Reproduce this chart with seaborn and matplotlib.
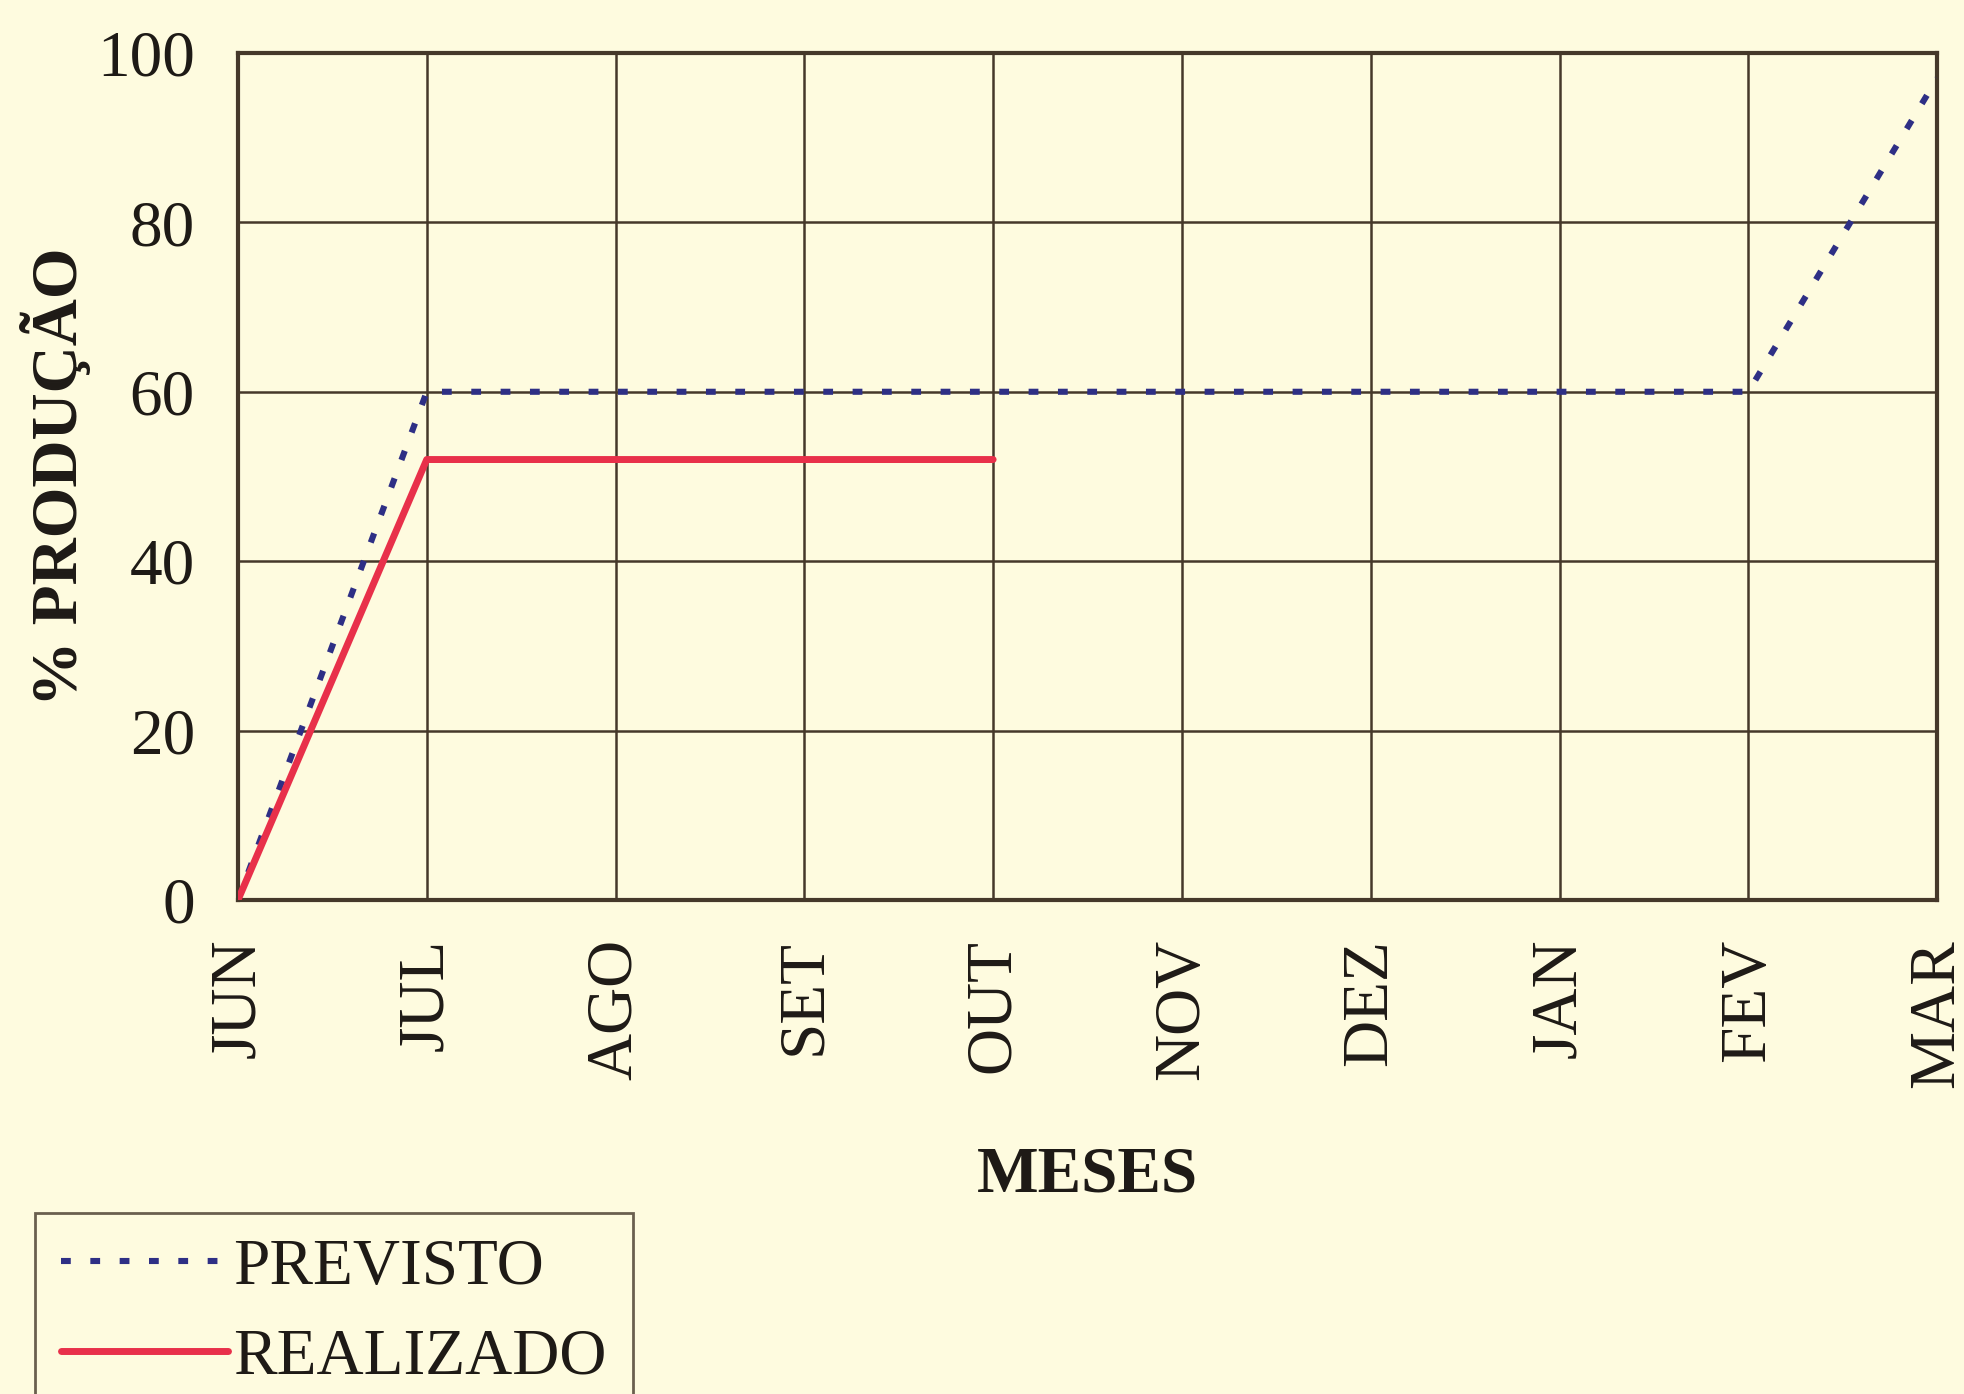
import matplotlib
matplotlib.use("Agg")
import matplotlib.pyplot as plt
import seaborn as sns
import pandas as pd

# ----------------------------
# Data
# ----------------------------
meses = ["JUN", "JUL", "AGO", "SET", "OUT", "NOV", "DEZ", "JAN", "FEV", "MAR"]
previsto = [0, 60, 60, 60, 60, 60, 60, 60, 60, 97]
realizado = [0, 52, 52, 52, 52]
y_ticks = [0, 20, 40, 60, 80, 100]

bg = "#fefbdf"
grid_col = "#45382a"
blue = "#2e2f85"
red = "#e8304a"

sns.set_style("white")
plt.rcParams["font.family"] = ["Liberation Serif", "DejaVu Serif"]

df_prev = pd.DataFrame({"mes": meses, "pct": previsto})
df_real = pd.DataFrame({"mes": meses[:len(realizado)], "pct": realizado})

fig = plt.figure(figsize=(19.65, 13.94), dpi=100, facecolor=bg)
ax = fig.add_axes([0.1211, 0.3544, 0.8647, 0.6076], facecolor=bg)

sns.lineplot(data=df_prev, x="mes", y="pct", ax=ax, color=blue, lw=4.4,
             linestyle=(0, (1.6, 3.2)), label="PREVISTO", zorder=3)
sns.lineplot(data=df_real, x="mes", y="pct", ax=ax, color=red, lw=5,
             label="REALIZADO", zorder=4)
for l in ax.get_lines():
    l.set_dash_capstyle("butt")

ax.set_xlim(0, len(meses) - 1)
ax.set_ylim(0, 100)
ax.set_yticks(y_ticks)
ax.grid(True, color=grid_col, lw=1.8)
ax.set_axisbelow(True)
for s in ax.spines.values():
    s.set_color(grid_col)
    s.set_linewidth(3)

ax.tick_params(axis="both", direction="out", length=11, width=1.8,
               color=grid_col, labelsize=47, labelcolor="#1e1a16")
ax.tick_params(axis="y", pad=20)
ax.tick_params(axis="x", pad=17)
plt.setp(ax.get_xticklabels(), rotation=90)

ax.set_xlabel("MESES", fontsize=47, fontweight="bold", color="#1e1a16", labelpad=42)
ax.set_ylabel("% PRODUÇÃO", fontsize=47, fontweight="bold", color="#1e1a16", labelpad=4)

ax.get_legend().remove()
h, lab = ax.get_legend_handles_labels()
leg = fig.legend(h, lab, loc="lower left", bbox_to_anchor=(0.018, -0.014),
                 fontsize=47, frameon=True, fancybox=False, handlelength=2.55,
                 handletextpad=0.08, labelspacing=0.45, borderpad=0.4,
                 borderaxespad=0)
leg.get_frame().set_edgecolor(grid_col)
leg.get_frame().set_linewidth(2)
leg.get_frame().set_facecolor(bg)
for t in leg.get_texts():
    t.set_color("#1e1a16")

fig.savefig("out.png", dpi=100, facecolor=bg)
plt.close(fig)
